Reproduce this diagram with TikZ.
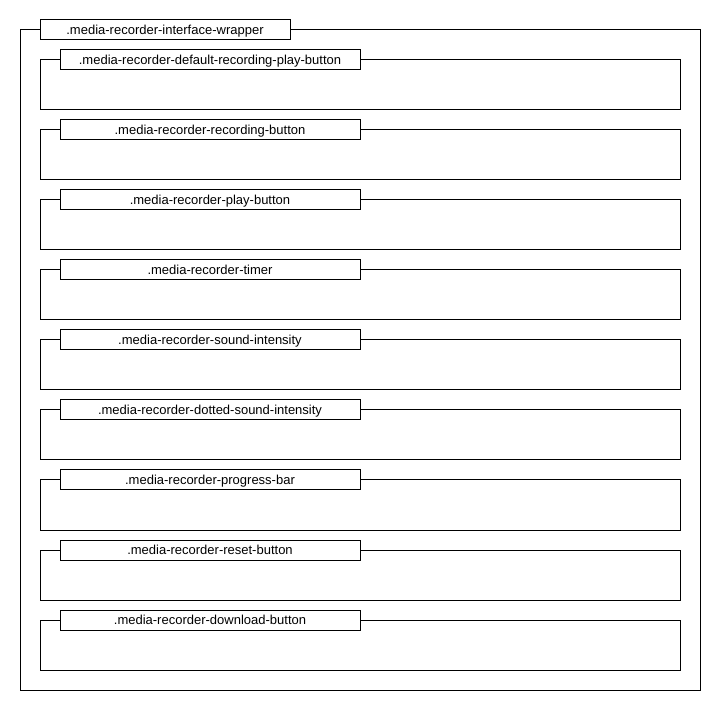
\documentclass[tikz,border=0pt]{standalone}
\usepackage{fontspec}
\setmainfont{Liberation Sans}
\usetikzlibrary{positioning}

\begin{document}
\begin{tikzpicture}[x=1pt, y=-1pt,
    wrapbox/.style={rectangle, draw, line width=1pt, inner sep=0pt},
    tagbox/.style={rectangle, draw, fill=white, line width=1pt, inner sep=0pt,
      minimum height=20pt, text height=9.5pt, text depth=0pt,
      font=\fontsize{13}{14}\selectfont}]
  \useasboundingbox (0,0) rectangle (721,711);
  \node (wrapper) [wrapbox, minimum width=680pt, minimum height=660pt] at (360,360) {};
  \node (wrappertag) [tagbox, minimum width=250pt] at (165,30) {.media-recorder-interface-wrapper};
  \foreach \name [count=\i from 0] in {default-recording-play-button, recording-button,
      play-button, timer, sound-intensity, dotted-sound-intensity, progress-bar,
      reset-button, download-button} {
    \node (box\i) [wrapbox, minimum width=640pt, minimum height=50pt] at (360,85+70*\i) {};
    \node (tag\i) [tagbox, minimum width=300pt] at (210,60+70*\i) {.media-recorder-\name};
  }
\end{tikzpicture}
\end{document}
